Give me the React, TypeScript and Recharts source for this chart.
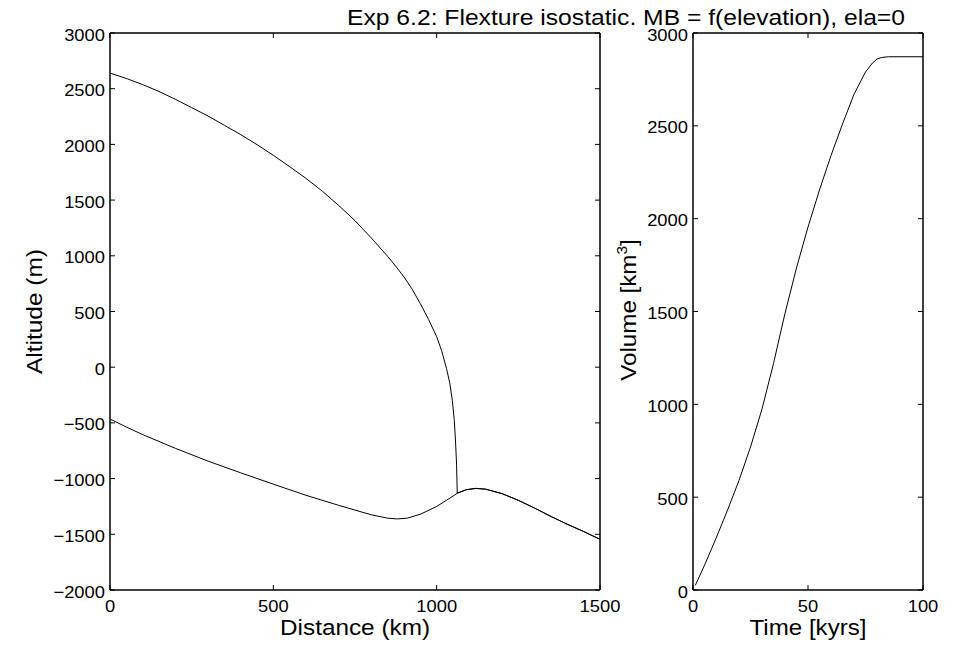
import React from 'react';
import { LineChart, Line, XAxis, YAxis, ReferenceLine } from 'recharts';

// ---------- data ----------
const surfaceDistance = [0, 50, 100, 150, 200, 250, 300, 350, 400, 450, 500, 550, 600, 650, 700, 750, 800, 850, 875, 900, 925, 950, 975, 1000, 1015, 1030, 1040, 1048, 1054, 1058, 1061, 1063];
const surfaceAltitude = [2640, 2592, 2537, 2475, 2405, 2330, 2255, 2172, 2088, 1998, 1902, 1800, 1695, 1580, 1452, 1315, 1160, 995, 905, 810, 700, 570, 430, 274, 150, -10, -140, -300, -480, -680, -880, -1130];

const bedDistance = [0, 50, 100, 200, 300, 400, 500, 600, 700, 800, 850, 880, 910, 950, 1000, 1030, 1063, 1090, 1120, 1150, 1200, 1250, 1300, 1350, 1400, 1450, 1500];
const bedAltitude = [-465, -537, -605, -728, -843, -948, -1050, -1150, -1240, -1325, -1355, -1362, -1355, -1320, -1250, -1195, -1132, -1100, -1088, -1095, -1135, -1195, -1265, -1340, -1410, -1475, -1545];

const timeKyr = [1, 5, 10, 15, 20, 25, 30, 35, 40, 45, 50, 55, 60, 65, 70, 75, 78, 80, 82, 85, 90, 100];
const volumeKm3 = [25, 133, 278, 430, 590, 770, 975, 1220, 1490, 1735, 1955, 2155, 2340, 2510, 2670, 2790, 2838, 2860, 2868, 2872, 2872, 2872];

const distanceTicks = [0, 500, 1000, 1500];
const altitudeTicks = [-2000, -1500, -1000, -500, 0, 500, 1000, 1500, 2000, 2500, 3000];
const timeTicks = [0, 50, 100];
const volumeTicks = [0, 500, 1000, 1500, 2000, 2500, 3000];

const titleText = 'Exp 6.2: Flexture isostatic. MB = f(elevation), ela=0';

// ---------- tables built from the arrays ----------
const bedData = bedDistance.map((x, i) => ({ x, y: bedAltitude[i] }));
const lastSurfaceX = surfaceDistance[surfaceDistance.length - 1];
const surfaceData = [
  ...surfaceDistance.map((x, i) => ({ x, y: surfaceAltitude[i] })),
  ...bedData.filter((p) => p.x > lastSurfaceX),
];
const volumeData = timeKyr.map((x, i) => ({ x, y: volumeKm3[i] }));

// ---------- styling ----------
const W = 964;
const H = 645;
const FONT = "'Liberation Sans', Arial, Helvetica, sans-serif";
const TL = 5;
const axisStyle = { stroke: '#000', strokeWidth: 1.5 };
const fmt = (v: number) => (v < 0 ? '\u2212' + Math.abs(v) : String(v));

const Y_W = 60;
const X_H = 40;
const TOP = 33;
const BOTTOM = 590;
const PLOT_H = BOTTOM - TOP;

const tickText = (tx: number, ty: number, anchor: string, v: number) => (
  <text
    transform={`translate(${tx},${ty}) scale(1.08,1)`}
    textAnchor={anchor}
    fontFamily={FONT}
    fontSize={17}
    fill="#000"
  >
    {fmt(v)}
  </text>
);

const makeLeftTick = (plotW: number) => (p: any) => {
  const { x, y, payload } = p;
  return (
    <g>
      <line x1={x} x2={x + TL} y1={y} y2={y} stroke="#000" strokeWidth={1} />
      <line x1={x + plotW} x2={x + plotW - TL} y1={y} y2={y} stroke="#000" strokeWidth={1} />
      {tickText(x - 5, y + 7.5, 'end', payload.value)}
    </g>
  );
};
const bottomTick = (p: any) => {
  const { x, y, payload } = p;
  return (
    <g>
      <line x1={x} x2={x} y1={y} y2={y - TL} stroke="#000" strokeWidth={1} />
      <line x1={x} x2={x} y1={y - PLOT_H} y2={y - PLOT_H + TL} stroke="#000" strokeWidth={1} />
      {tickText(x, y + 22, 'middle', payload.value)}
    </g>
  );
};

type PanelProps = {
  left: number;
  right: number;
  xDomain: [number, number];
  yDomain: [number, number];
  xTicks: number[];
  yTicks: number[];
  series: { x: number; y: number }[][];
};

function Panel({ left, right, xDomain, yDomain, xTicks, yTicks, series }: PanelProps) {
  return (
    <div style={{ position: 'absolute', left: 0, top: 0 }}>
      <LineChart
        width={W}
        height={H}
        margin={{ top: TOP, left: left - Y_W, right: W - right, bottom: H - BOTTOM - X_H }}
      >
        <XAxis
          xAxisId="b"
          type="number"
          dataKey="x"
          domain={xDomain}
          ticks={xTicks}
          interval={0}
          allowDataOverflow
          height={X_H}
          tickSize={0}
          tickMargin={0}
          tickLine={false}
          axisLine={axisStyle}
          tick={bottomTick}
        />
        <YAxis
          yAxisId="l"
          type="number"
          dataKey="y"
          domain={yDomain}
          ticks={yTicks}
          interval={0}
          allowDataOverflow
          width={Y_W}
          tickSize={0}
          tickMargin={0}
          tickLine={false}
          axisLine={axisStyle}
          tick={makeLeftTick(right - left)}
        />
        <ReferenceLine xAxisId="b" yAxisId="l" y={yDomain[1]} stroke="#000" strokeWidth={1.5} ifOverflow="visible" />
        <ReferenceLine xAxisId="b" yAxisId="l" x={xDomain[1]} stroke="#000" strokeWidth={1.5} ifOverflow="visible" />
        {series.map((d, i) => (
          <Line
            key={i}
            xAxisId="b"
            yAxisId="l"
            data={d}
            dataKey="y"
            type="linear"
            stroke="#000"
            strokeWidth={1}
            dot={false}
            activeDot={false}
            isAnimationActive={false}
          />
        ))}
      </LineChart>
    </div>
  );
}

export default function App() {
  return (
    <div style={{ position: 'absolute', left: 0, top: 0, width: W, height: H, background: '#fff' }}>
      <Panel
        left={110}
        right={600}
        xDomain={[0, 1500]}
        yDomain={[-2000, 3000]}
        xTicks={distanceTicks}
        yTicks={altitudeTicks}
        series={[bedData, surfaceData]}
      />
      <Panel
        left={693}
        right={923}
        xDomain={[0, 100]}
        yDomain={[0, 3000]}
        xTicks={timeTicks}
        yTicks={volumeTicks}
        series={[volumeData]}
      />
      <svg
        width={W}
        height={H}
        style={{ position: 'absolute', left: 0, top: 0, pointerEvents: 'none' }}
      >
        <text x={626} y={25} textAnchor="middle" fontFamily={FONT} fontSize={22} fill="#000" textLength={558} lengthAdjust="spacingAndGlyphs">
          {titleText}
        </text>
        <text x={355} y={635} textAnchor="middle" fontFamily={FONT} fontSize={22} fill="#000" textLength={150} lengthAdjust="spacingAndGlyphs">
          Distance (km)
        </text>
        <text x={808} y={635} textAnchor="middle" fontFamily={FONT} fontSize={22} fill="#000" textLength={117} lengthAdjust="spacingAndGlyphs">
          Time [kyrs]
        </text>
        <text transform="translate(42,311.5) rotate(-90)" textAnchor="middle" fontFamily={FONT} fontSize={22} fill="#000" textLength={125} lengthAdjust="spacingAndGlyphs">
          Altitude (m)
        </text>
        <text transform="translate(636,310) rotate(-90) scale(1.1,1)" textAnchor="middle" fontFamily={FONT} fontSize={22} fill="#000">
          Volume [km<tspan dy={-9} fontSize={14}>3</tspan><tspan dy={9} fontSize={22}>]</tspan>
        </text>
      </svg>
    </div>
  );
}
